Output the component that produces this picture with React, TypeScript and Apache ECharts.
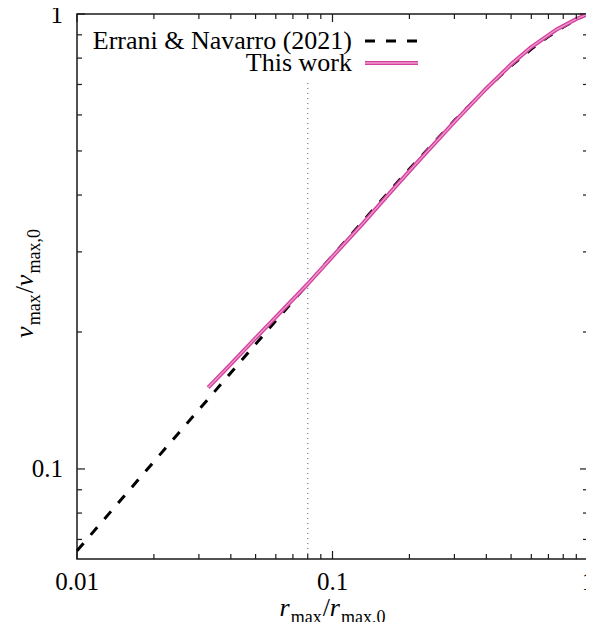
import React, { useEffect, useRef } from "react";
import * as echarts from "echarts";

// Errani & Navarro (2021) track (dashed)
const erraniX = [0.01, 0.02, 0.03, 0.05, 0.07, 0.1, 0.15, 0.2, 0.3, 0.4, 0.5, 0.6, 0.7, 0.8, 0.9, 1.0];
const erraniY = [0.0661, 0.1038, 0.135, 0.1881, 0.2339, 0.2942, 0.3811, 0.4563, 0.5829, 0.6853, 0.7691, 0.8374, 0.8923, 0.9365, 0.972, 1.0];

// This work (pink)
const workX = [0.0326, 0.04, 0.05, 0.065, 0.08, 0.1, 0.13, 0.17, 0.22, 0.3, 0.4, 0.5, 0.6, 0.75, 0.9, 1.0];
const workY = [0.151, 0.17, 0.194, 0.226, 0.255, 0.293, 0.344, 0.408, 0.479, 0.579, 0.686, 0.775, 0.846, 0.923, 0.975, 1.0];

// vertical reference line
const refX = 0.08;
const refYTop = 0.71;

// axes
const xMin = 0.01;
const xMax = 1;
const yMin = 0.0634;
const yMax = 1;
const xTickLabels = ["0.01", "0.1", "1"];
const yTickLabels = ["0.1", "1"];
const xMinorTicks = [0.02, 0.03, 0.04, 0.05, 0.06, 0.07, 0.08, 0.09, 0.2, 0.3, 0.4, 0.5, 0.6, 0.7, 0.8, 0.9];
const xMajorTicks = [0.01, 0.1, 1];
const yMinorTicks = [0.07, 0.08, 0.09, 0.2, 0.3, 0.4, 0.5, 0.6, 0.7, 0.8, 0.9];
const yMajorTicks = [0.1, 1];

const legendLabels = ["Errani & Navarro (2021)", "This work"];
const xTitle = "{i|r}{s|max}{n|/}{i|r}{s|max,0}";
const yTitle = "{i|v}{s|max}{n|/}{i|v}{s|max,0}";

const SERIF = "Liberation Serif";

function isDecade(v: number) {
  const l = Math.log10(v);
  return Math.abs(l - Math.round(l)) < 1e-6;
}

export default function App() {
  const ref = useRef<HTMLDivElement>(null);
  useEffect(() => {
    if (!ref.current) return;
    const chart = echarts.init(ref.current, null, { renderer: "svg" });

    const xTickData = [
      ...xMinorTicks.map((v) => [v, yMax, 0]),
      ...xMajorTicks.map((v) => [v, yMax, 1]),
    ];
    const yTickData = [
      ...yMinorTicks.map((v) => [xMax, v, 0]),
      ...yMajorTicks.map((v) => [xMax, v, 1]),
    ];
    const tickStyle = { stroke: "#1a1a1a", lineWidth: 1.2 };

    const mainRich = {
      i: { fontFamily: SERIF, fontStyle: "italic", fontSize: 26, fill: "#000", verticalAlign: "bottom", padding: [0, 1, 5, 0] },
      n: { fontFamily: SERIF, fontSize: 26, fill: "#000", verticalAlign: "bottom", padding: [0, 0, 5, 0] },
      s: { fontFamily: SERIF, fontSize: 18, fill: "#000", verticalAlign: "bottom", padding: [0, 1, 0, 0] },
    };

    const legendTextStyle = { fontFamily: SERIF, fontSize: 26, lineHeight: 20, fill: "#000", textAlign: "right", textVerticalAlign: "middle" };

    const baseGraphic: any[] = [
      { type: "text", x: 352, y: 40, z: 10, style: { ...legendTextStyle, text: legendLabels[0] } },
      { type: "line", z: 10, shape: { x1: 365, y1: 41, x2: 418, y2: 41 }, style: { stroke: "#000", lineWidth: 3, lineDash: [10, 11] } },
      { type: "text", x: 352, y: 62, z: 10, style: { ...legendTextStyle, text: legendLabels[1] } },
      { type: "line", z: 10, shape: { x1: 365, y1: 63, x2: 418, y2: 63 }, style: { stroke: "#d4409e", lineWidth: 4 } },
      { type: "line", z: 11, shape: { x1: 365, y1: 63, x2: 418, y2: 63 }, style: { stroke: "#ee9ccc", lineWidth: 1.3 } },
      {
        type: "text",
        x: 333,
        y: 610,
        z: 10,
        style: { text: xTitle, rich: mainRich, textAlign: "center", textVerticalAlign: "middle" },
      },
      {
        type: "text",
        x: 27,
        y: 283,
        rotation: Math.PI / 2,
        z: 10,
        style: { text: yTitle, rich: mainRich, textAlign: "center", textVerticalAlign: "middle" },
      },
    ];

    chart.setOption({
      animation: false,
      grid: {
        left: 77,
        right: 6,
        top: 14,
        bottom: 71,
        show: true,
        borderColor: "#1a1a1a",
        borderWidth: 1.5,
        backgroundColor: "transparent",
        outerBoundsMode: "none",
        containLabel: false,
      },
      graphic: baseGraphic,
      xAxis: {
        type: "log",
        logBase: 10,
        min: xMin,
        max: xMax,
        axisLine: { show: false },
        axisTick: { show: false },
        splitLine: { show: false },
        minorTick: { show: false },
        axisLabel: {
          fontFamily: SERIF,
          fontSize: 25,
          lineHeight: 22,
          color: "#000",
          margin: 11,
          showMinLabel: true,
          showMaxLabel: false,
          hideOverlap: false,
          formatter: (v: number) => (isDecade(v) && v < xMax * 0.999 ? xTickLabels[Math.round(Math.log10(v)) + 2] : ""),
        },
      },
      yAxis: {
        type: "log",
        logBase: 10,
        min: yMin,
        max: yMax,
        axisLine: { show: false },
        axisTick: { show: false },
        splitLine: { show: false },
        minorTick: { show: false },
        axisLabel: {
          fontFamily: SERIF,
          fontSize: 25,
          color: "#000",
          margin: 14,
          showMinLabel: true,
          showMaxLabel: true,
          hideOverlap: false,
          formatter: (v: number) => (isDecade(v) ? yTickLabels[Math.round(Math.log10(v)) + 1] : ""),
        },
      },
      series: [
        {
          name: "refline",
          type: "line",
          data: [
            [refX, yMin],
            [refX, refYTop],
          ],
          symbol: "none",
          lineStyle: { color: "#6f7f99", width: 1.2, type: [1, 4] },
          silent: true,
          z: 1,
        },
        {
          name: legendLabels[0],
          type: "line",
          data: erraniX.map((x, i) => [x, erraniY[i]]),
          symbol: "none",
          color: "#000",
          lineStyle: { color: "#000", width: 3, type: [10, 11], cap: "butt" },
          z: 2,
        },
        {
          name: legendLabels[1],
          type: "line",
          data: workX.map((x, i) => [x, workY[i]]),
          symbol: "none",
          color: "#d4409e",
          lineStyle: { color: "#d4409e", width: 4 },
          z: 3,
        },
        {
          name: "This work inner",
          type: "line",
          data: workX.map((x, i) => [x, workY[i]]),
          symbol: "none",
          color: "#ee9ccc",
          lineStyle: { color: "#ee9ccc", width: 1.3 },
          z: 4,
        },
        {
          name: "xticks",
          type: "custom",
          silent: true,
          data: xTickData,
          z: 5,
          renderItem: (params: any, api: any) => {
            const v = api.value(0);
            const major = api.value(2) === 1;
            const len = major ? 8 : 5;
            const b = api.coord([v, yMin]);
            const t = api.coord([v, yMax]);
            return {
              type: "group",
              children: [
                { type: "line", shape: { x1: b[0], y1: b[1], x2: b[0], y2: b[1] - len }, style: tickStyle },
                { type: "line", shape: { x1: t[0], y1: t[1], x2: t[0], y2: t[1] + len }, style: tickStyle },
              ],
            };
          },
        },
        {
          name: "yticks",
          type: "custom",
          silent: true,
          data: yTickData,
          z: 5,
          renderItem: (params: any, api: any) => {
            const v = api.value(1);
            const major = api.value(2) === 1;
            const len = major ? 8 : 5;
            const l = api.coord([xMin, v]);
            const r = api.coord([xMax, v]);
            return {
              type: "group",
              children: [
                { type: "line", shape: { x1: l[0], y1: l[1], x2: l[0] + len, y2: l[1] }, style: tickStyle },
                { type: "line", shape: { x1: r[0], y1: r[1], x2: r[0] - len, y2: r[1] }, style: tickStyle },
              ],
            };
          },
        },
      ],
    });

    // last x tick label placed through the axis scale
    const p = chart.convertToPixel({ gridIndex: 0 }, [xMax, yMin]) as number[];
    chart.setOption({
      graphic: [
        ...baseGraphic,
        {
          type: "text",
          x: p[0],
          y: p[1] + 22,
          z: 10,
          style: {
            text: xTickLabels[2],
            fontFamily: SERIF,
            fontSize: 25,
            fill: "#000",
            textAlign: "center",
            textVerticalAlign: "middle",
          },
        },
      ],
    });
    return () => chart.dispose();
  }, []);
  return <div ref={ref} style={{ width: 594, height: 630, margin: -8 }} />;
}
